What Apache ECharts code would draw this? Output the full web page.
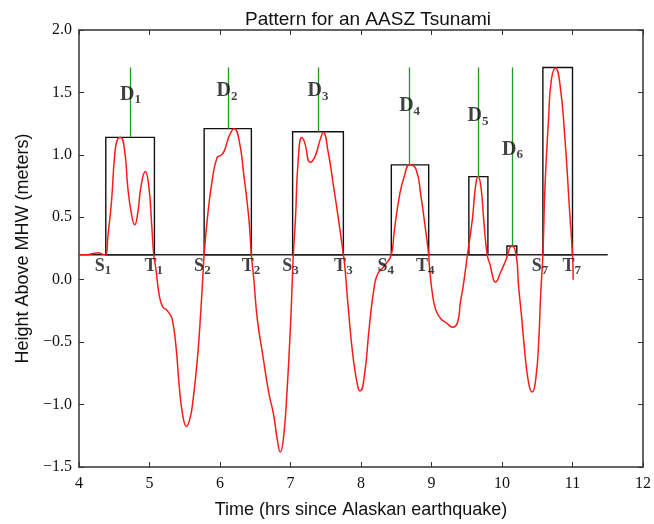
<!DOCTYPE html>
<html><head><meta charset="utf-8">
<script src="https://cdn.jsdelivr.net/npm/echarts@6/dist/echarts.min.js"></script>
<style>html,body{margin:0;padding:0;background:#fff}#c{width:654px;height:524px}</style>
</head><body><div id="c"></div>
<script>
// Tsunami height curve (time in hours, height in metres)
const curveT = [4.0,4.1,4.2,4.27,4.33,4.38,4.41,4.46,4.51,4.55,4.59,4.65,4.69,4.74,4.79,4.835,4.88,4.94,4.99,5.03,5.06,
  5.09,5.14,5.19,5.24,5.28,5.32,5.375,5.42,5.47,5.525,5.57,5.61,5.68,5.73,5.76,5.775,
  5.82,5.89,5.96,6.01,6.06,6.13,6.20,6.27,6.34,6.41,6.445,6.48,6.53,6.60,6.69,6.76,6.81,6.855,6.90,6.95,7.0,7.03,7.04,
  7.07,7.11,7.16,7.20,7.28,7.35,7.42,7.465,7.535,7.61,7.68,7.75,7.77,7.82,7.89,7.96,7.99,8.05,8.12,8.19,8.24,8.33,8.43,
  8.47,8.545,8.615,8.69,8.78,8.85,8.92,8.96,8.97,9.01,9.06,9.13,9.22,9.30,9.37,9.41,9.45,9.51,
  9.58,9.625,9.66,9.70,9.74,9.79,9.835,9.88,9.905,9.98,10.05,10.14,10.20,10.235,10.28,10.31,10.375,10.43,10.48,10.52,10.55,10.58,
  10.61,10.66,10.70,10.76,10.82,10.89,10.96,11.0,11.01];
const curveH = [0.2,0.2,0.21,0.215,0.205,0.2,0.35,0.62,1.02,1.13,1.14,1.02,0.75,0.54,0.44,0.54,0.75,0.866,0.75,0.45,0.2,
  0.09,-0.13,-0.22,-0.24,-0.27,-0.31,-0.53,-0.84,-1.08,-1.175,-1.12,-1.0,-0.63,-0.23,0.06,0.2,
  0.485,0.80,0.98,0.995,1.03,1.15,1.21,1.12,0.83,0.485,0.2,0.0,-0.32,-0.58,-0.90,-1.08,-1.27,-1.38,-1.27,-0.90,-0.365,0.06,0.2,
  0.485,0.965,1.14,1.10,0.94,0.99,1.12,1.18,1.02,0.75,0.485,0.2,0.11,-0.23,-0.63,-0.87,-0.89,-0.76,-0.365,-0.05,0.05,0.11,0.2,
  0.38,0.67,0.83,0.92,0.885,0.67,0.38,0.2,0.11,-0.1,-0.24,-0.31,-0.35,-0.38,-0.34,-0.18,-0.05,0.2,
  0.485,0.75,0.826,0.75,0.485,0.2,0.11,0.0,-0.02,0.06,0.15,0.27,0.2,-0.05,-0.31,-0.5,-0.82,-0.90,-0.79,-0.5,-0.1,0.2,
  0.75,1.28,1.60,1.695,1.575,1.15,0.54,0.2,0.0];

// Reference level and wave boxes
const baseLevel = 0.2;
const baseStart = 4.0, baseEnd = 11.5;
const boxStart = [4.38, 5.775, 7.03, 8.43, 9.53, 10.07, 10.58];
const boxEnd   = [5.07, 6.445, 7.75, 8.96, 9.80, 10.21, 11.0];
const boxTop   = [1.14, 1.21, 1.185, 0.92, 0.826, 0.27, 1.70];

// D markers (green lines) and labels
const dNames = ['1','2','3','4','5','6'];
const dTime  = [4.73, 6.12, 7.40, 8.69, 9.67, 10.14];
const dLineTop = 1.70;
const dLabelT = [4.73, 6.10, 7.39, 8.69, 9.66, 10.15];
const dLabelH = [1.48, 1.51, 1.51, 1.39, 1.31, 1.04];

// S / T labels
const stText = ['S','T','S','T','S','T','S','T','S','T'];
const stSub  = ['1','1','2','2','3','3','4','4','7','7'];
const stTime = [4.34, 5.06, 5.75, 6.44, 7.0, 7.75, 8.35, 8.91, 10.54, 10.99];
const stH = 0.11;

const yMin = -1.5, yMax = 2.0, yStep = 0.5;

const chart = echarts.init(document.getElementById('c'), null, {renderer:'canvas'});
const curve = curveT.map((t,i)=>[t, curveH[i]]);
const areas = boxStart.map((s,i)=>[{coord:[s, baseLevel]},{coord:[boxEnd[i], boxTop[i]]}]);
const dBottom = dTime.map((t,i)=>{
  let b = baseLevel;
  boxStart.forEach((s,j)=>{ if (t>=s && t<=boxEnd[j]) b = boxTop[j]; });
  return b;
});
const greenLines = dTime.map((t,i)=>[{coord:[t, dBottom[i]]},{coord:[t, dLineTop]}]);

const serif = 'Liberation Serif';
const sans = 'Liberation Sans';
const rich = {
  d:{fontFamily:serif,fontWeight:'bold',fontSize:20,color:'#111',lineHeight:22},
  s:{fontFamily:serif,fontWeight:'bold',fontSize:13,color:'#111',lineHeight:22,padding:[10,0,0,0]}
};

const axisLine = {show:true, onZero:false, lineStyle:{color:'#333', width:1.5}};
chart.setOption({
  animation:false,
  title:{text:'Pattern for an AASZ Tsunami', left:363, textAlign:'center', top:5,
    textStyle:{fontFamily:sans, fontWeight:'normal', fontSize:19, color:'#111'}},
  grid:{left:79, right:7, top:30, bottom:55},
  xAxis:[
    {type:'value', min:4, max:12, interval:1, position:'bottom',
      axisLine:axisLine, axisTick:{inside:true,length:5,lineStyle:{color:'#333'}}, splitLine:{show:false},
      axisLabel:{fontFamily:serif, fontSize:16, color:'#111', margin:9},
      name:'Time (hrs since Alaskan earthquake)', nameLocation:'middle', nameGap:34,
      nameTextStyle:{fontFamily:sans, fontSize:18, color:'#111'}},
    {type:'value', min:4, max:12, interval:1, position:'top',
      axisLine:axisLine, axisTick:{inside:true,length:5,lineStyle:{color:'#333'}}, splitLine:{show:false},
      axisLabel:{show:false}}
  ],
  yAxis:[
    {type:'value', min:yMin, max:yMax, interval:yStep, position:'left',
      axisLine:axisLine, axisTick:{inside:true,length:5,lineStyle:{color:'#333'}}, splitLine:{show:false},
      axisLabel:{fontFamily:serif, fontSize:16, color:'#111', margin:7,
        formatter:v=>(v<0?'\u2212':'')+Math.abs(v).toFixed(1)},
      name:'Height Above MHW (meters)', nameLocation:'middle', nameGap:47, nameRotate:90,
      nameTextStyle:{fontFamily:sans, fontSize:18, color:'#111'}},
    {type:'value', min:yMin, max:yMax, interval:yStep, position:'right',
      axisLine:axisLine, axisTick:{inside:true,length:5,lineStyle:{color:'#333'}}, splitLine:{show:false},
      axisLabel:{show:false}}
  ],
  series:[
    {type:'line', data:[[baseStart, baseLevel],[baseEnd, baseLevel]], symbol:'none', silent:true,
      lineStyle:{color:'#222', width:1.5}, z:2,
      markArea:{silent:true, itemStyle:{color:'rgba(0,0,0,0)', borderColor:'#111', borderWidth:1.4}, data:areas},
      markLine:{silent:true, symbol:['none','none'], label:{show:false},
        lineStyle:{color:'#1f9a1f', width:1.3, type:'solid'}, data:greenLines}
    },
    {type:'line', data:curve, symbol:'none', smooth:0.5, silent:true,
      lineStyle:{color:'#ff1a1a', width:1.5}, z:3},
    {type:'scatter', symbolSize:0, silent:true, z:5,
      data:dLabelT.map((t,i)=>[t, dLabelH[i], dNames[i]]),
      label:{show:true, position:'inside', formatter:p=>'{d|D}{s|'+p.value[2]+'}', rich:rich}},
    {type:'scatter', symbolSize:0, silent:true, z:5,
      data:stTime.map((t,i)=>[t, stH, stText[i], stSub[i]]),
      label:{show:true, position:'inside', formatter:p=>'{d|'+p.value[2]+'}{s|'+p.value[3]+'}',
        rich:{d:Object.assign({},rich.d,{fontSize:18}), s:rich.s}}}
  ]
});
</script></body></html>
